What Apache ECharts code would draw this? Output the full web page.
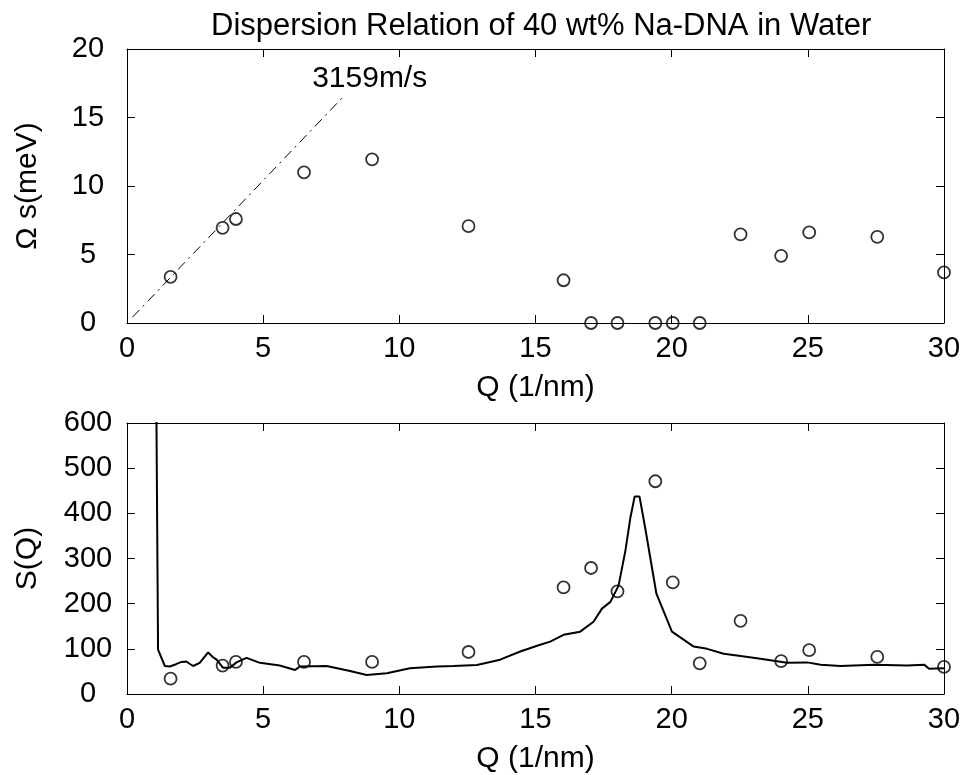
<!DOCTYPE html>
<html>
<head>
<meta charset="utf-8">
<script src="https://cdn.jsdelivr.net/npm/echarts@6/dist/echarts.min.js"></script>
<style>html,body{margin:0;padding:0;background:#fff;}#c{width:974px;height:775px;}</style>
</head>
<body>
<div id="c"></div>
<script>
// ---- data ----
var titleText = 'Dispersion Relation of 40 wt% Na-DNA in Water';
var xTicks = [0, 5, 10, 15, 20, 25, 30];
var omegaTicks = [0, 5, 10, 15, 20];
var sqTicks = [0, 100, 200, 300, 400, 500, 600];

var qPoints = [1.6, 3.51, 4.0, 6.5, 9.0, 12.54, 16.03, 17.04, 18.01, 19.4, 20.04, 21.03, 22.53, 24.02, 25.05, 27.55, 30.0];
var omegaPoints = [3.37, 6.95, 7.59, 11.0, 11.95, 7.07, 3.12, 0, 0, 0, 0, 0, 6.47, 4.9, 6.61, 6.29, 3.69];
var sqPoints = [34, 63, 71, 71, 71, 93, 236, 279, 227, 471, 247, 68, 162, 73, 97, 82, 60];

var soundLineQ = [0.2, 7.9];
var soundLineOmega = [0.42, 16.43];
var soundLabel = '3159m/s';
var soundLabelQ = 6.78;
var soundLabelOmega = 17.83;

var curveQ = [1.08, 1.14, 1.39, 1.57, 1.8, 2.0, 2.18, 2.3, 2.43, 2.67, 2.98, 3.15, 3.29, 3.53, 3.78, 4.02, 4.39, 4.88, 5.61, 6.17, 6.35, 7.33, 8.19, 8.8, 9.54, 10.39, 11.38, 11.99, 12.85, 13.7, 14.44, 15.17, 15.54, 16.03, 16.64, 17.13, 17.44, 17.75, 18.05, 18.3, 18.48, 18.64, 18.82, 19.03, 19.44, 20.01, 20.81, 21.3, 21.91, 22.53, 23.26, 24.24, 24.98, 25.47, 26.2, 27.43, 28.65, 29.27, 29.45, 30.0];
var curveS = [620, 98, 62, 61, 66, 71, 72, 67, 62, 69, 92, 82, 76, 58, 58, 70, 80, 69, 63, 53, 61, 62, 51, 42, 46, 57, 61, 62, 64, 76, 94, 109, 116, 131, 138, 160, 189, 204, 240, 317, 389, 437, 437, 367, 222, 138, 105, 100, 89, 84, 78, 69, 70, 65, 62, 65, 63, 65, 56, 57];

function zip(a, b) { return a.map(function (v, i) { return [v, b[i]]; }); }

var FONT = 'Liberation Sans, Arial, Helvetica, sans-serif';
var lineStyle = { color: '#000', width: 1 };

function mkX(gi, pos, showLabel, ticks, name) {
  return {
    type: 'value', gridIndex: gi, position: pos,
    min: ticks[0], max: ticks[ticks.length - 1], interval: ticks[1] - ticks[0],
    axisLine: { show: true, onZero: false, lineStyle: lineStyle },
    axisTick: { show: true, inside: true, length: 8, lineStyle: lineStyle },
    axisLabel: { show: showLabel, color: '#000', fontSize: 29, fontFamily: FONT, margin: 11 },
    splitLine: { show: false },
    name: showLabel ? name : '', nameLocation: 'middle', nameGap: 50,
    nameTextStyle: { color: '#000', fontSize: 30, fontFamily: FONT }
  };
}
function mkY(gi, pos, showLabel, ticks, name) {
  return {
    type: 'value', gridIndex: gi, position: pos,
    min: ticks[0], max: ticks[ticks.length - 1], interval: ticks[1] - ticks[0],
    axisLine: { show: true, onZero: false, lineStyle: lineStyle },
    axisTick: { show: true, inside: true, length: 8, lineStyle: lineStyle },
    axisLabel: { show: showLabel, color: '#000', fontSize: 29, fontFamily: FONT, margin: 39, align: 'center' },
    splitLine: { show: false },
    name: showLabel ? name : '', nameLocation: 'middle', nameGap: 84,
    nameTextStyle: { color: '#000', fontSize: 30, fontFamily: FONT }
  };
}

var circleStyle = { color: 'rgba(0,0,0,0)', borderColor: '#000', borderWidth: 1.8 };

var option = {
  backgroundColor: '#fff',
  animation: false,
  title: {
    text: titleText, left: 206, top: 6,
    textStyle: { color: '#000', fontSize: 31, fontWeight: 'normal', fontFamily: FONT }
  },
  grid: [
    { left: 127, right: 30, top: 49, height: 274 },
    { left: 127, right: 30, top: 423, height: 275 }
  ],
  xAxis: [
    mkX(0, 'bottom', true, xTicks, 'Q (1/nm)'),
    mkX(1, 'bottom', true, xTicks, 'Q (1/nm)'),
    mkX(0, 'top', false, xTicks, ''),
    mkX(1, 'top', false, xTicks, '')
  ],
  yAxis: [
    mkY(0, 'left', true, omegaTicks, 'Ω s(meV)'),
    mkY(1, 'left', true, sqTicks, 'S(Q)'),
    mkY(0, 'right', false, omegaTicks, ''),
    mkY(1, 'right', false, sqTicks, '')
  ],
  series: [
    {
      type: 'line', xAxisIndex: 0, yAxisIndex: 0,
      data: zip(soundLineQ, soundLineOmega), showSymbol: false, symbol: 'none',
      lineStyle: { color: '#000', width: 1, type: [10, 5, 2, 5] }, z: 2
    },
    {
      type: 'scatter', xAxisIndex: 0, yAxisIndex: 0,
      data: [[soundLabelQ, soundLabelOmega]], symbolSize: 1,
      itemStyle: { color: 'rgba(0,0,0,0)' },
      label: { show: true, position: 'right', distance: 0, align: 'left', verticalAlign: 'middle', formatter: soundLabel,
        color: '#000', opacity: 1, textBorderWidth: 0, fontSize: 30, fontFamily: FONT },
      silent: true
    },
    {
      type: 'scatter', xAxisIndex: 0, yAxisIndex: 0,
      data: zip(qPoints, omegaPoints), symbol: 'circle', symbolSize: 12,
      itemStyle: circleStyle, clip: false, z: 3
    },
    {
      type: 'line', xAxisIndex: 1, yAxisIndex: 1,
      data: zip(curveQ, curveS), showSymbol: false, symbol: 'none', clip: true,
      lineStyle: { color: '#000', width: 2 }, z: 2
    },
    {
      type: 'scatter', xAxisIndex: 1, yAxisIndex: 1,
      data: zip(qPoints, sqPoints), symbol: 'circle', symbolSize: 12,
      itemStyle: circleStyle, clip: false, z: 3
    }
  ]
};

var chart = echarts.init(document.getElementById('c'), null, { renderer: 'canvas' });
chart.setOption(option);
</script>
</body>
</html>
